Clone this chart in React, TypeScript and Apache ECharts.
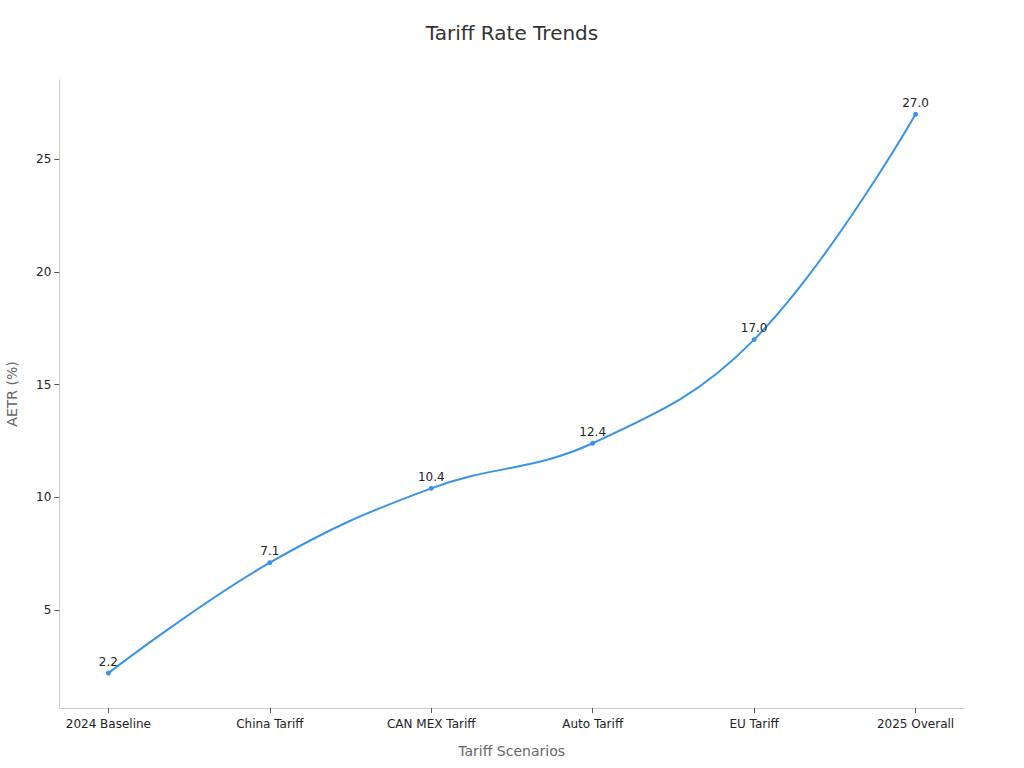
import React, { useEffect, useRef } from 'react'
import * as echarts from 'echarts'

const categories = ['2024 Baseline', 'China Tariff', 'CAN MEX Tariff', 'Auto Tariff', 'EU Tariff', '2025 Overall']
const aetrValues = [2.2, 7.1, 10.4, 12.4, 17.0, 27.0]
const yTicks = [5, 10, 15, 20, 25]

const FONT = 'DejaVu Sans, sans-serif'

const App: React.FC = () => {
  const chartRef = useRef<HTMLDivElement>(null)

  useEffect(() => {
    document.body.style.margin = '0'
    if (!chartRef.current) return
    const chart = echarts.init(chartRef.current, undefined, { renderer: 'svg' })

    const option: any = {
      animation: false,
      backgroundColor: '#ffffff',
      title: {
        text: 'Tariff Rate Trends',
        left: 'center',
        top: 18,
        textStyle: { fontFamily: FONT, fontSize: 20, fontWeight: 'normal', color: '#333333' }
      },
      grid: { left: 59.3, right: 60, top: 80, bottom: 60, containLabel: false, outerBoundsMode: 'none' },
      xAxis: {
        type: 'value',
        min: -0.304,
        max: 5.3,
        name: 'Tariff Scenarios',
        nameLocation: 'middle',
        nameGap: 36,
        nameTextStyle: { fontFamily: FONT, fontSize: 14, color: '#666666' },
        axisLine: { show: true, onZero: false, lineStyle: { color: '#cccccc', width: 1 } },
        axisTick: { show: true, length: 5, lineStyle: { color: '#555555' }, customValues: categories.map((_, i) => i) },
        axisLabel: {
          fontFamily: FONT,
          fontSize: 12,
          color: '#222222',
          margin: 10,
          customValues: categories.map((_, i) => i),
          formatter: (v: number) => categories[Math.round(v)] ?? ''
        },
        splitLine: { show: false }
      },
      yAxis: {
        type: 'value',
        min: 0.651,
        max: 28.52,
        name: 'AETR (%)',
        nameLocation: 'middle',
        nameGap: 40,
        nameTextStyle: { fontFamily: FONT, fontSize: 14, color: '#666666' },
        axisLine: { show: true, onZero: false, lineStyle: { color: '#cccccc', width: 1 } },
        axisTick: { show: true, length: 5, lineStyle: { color: '#555555' }, customValues: yTicks },
        axisLabel: {
          fontFamily: FONT,
          fontSize: 12,
          color: '#222222',
          margin: 8,
          customValues: yTicks
        },
        splitLine: { show: false }
      },
      series: [
        {
          type: 'line',
          data: aetrValues.map((v, i) => [i, v]),
          smooth: 0.4,
          symbol: 'circle',
          symbolSize: 5,
          itemStyle: { color: '#3a93e6' },
          lineStyle: { color: '#3a93e6', width: 2 },
          label: {
            show: true,
            position: 'top',
            distance: 3,
            fontFamily: FONT,
            fontSize: 12,
            color: '#222222',
            formatter: (p: any) => Number(p.value[1]).toFixed(1)
          }
        }
      ]
    }

    chart.setOption(option)
    return () => {
      chart.dispose()
    }
  }, [])

  return <div ref={chartRef} style={{ width: '1024px', height: '768px' }} />
}

export default App
